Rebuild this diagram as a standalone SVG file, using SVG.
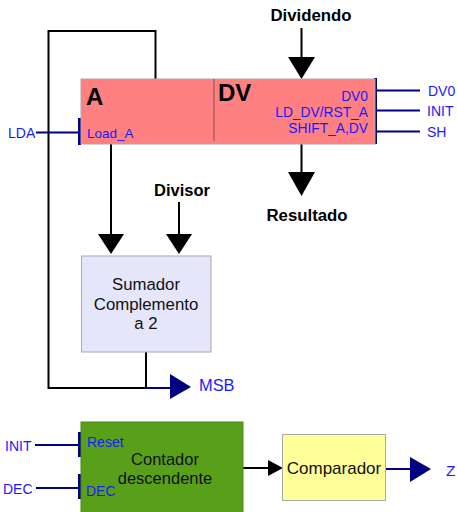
<svg xmlns="http://www.w3.org/2000/svg" width="457" height="512" viewBox="0 0 457 512">
<style>
.w{stroke:#000;stroke-width:2;fill:none}
.n{stroke:#000080;stroke-width:2;fill:none}
.bar{stroke:#000080;stroke-width:3;fill:none}
.bt{font-family:"Liberation Sans",Arial,sans-serif;font-weight:bold;fill:#000}
.bl{font-family:"Liberation Sans",Arial,sans-serif;fill:#1a1aff}
.t{font-family:"Liberation Sans",Arial,sans-serif;fill:#111}
</style>
<rect width="457" height="512" fill="#fff"/>
<g id="connectors">
<polyline class="w" points="155.5,79 155.5,31 48.5,31 48.5,388 146,388"/>
<line class="w" x1="146" y1="352" x2="146" y2="388"/>
<line class="n" x1="146" y1="388" x2="171" y2="388"/>
<polygon points="170,374 191,387 170,399" fill="#000080"/>
<line class="w" x1="111" y1="144" x2="111" y2="236"/>
<polygon points="98,234 124,234 111,254" fill="#000"/>
<line class="w" x1="179" y1="202" x2="179" y2="236"/>
<polygon points="166,234 192,234 179,254" fill="#000"/>
<line class="w" x1="301.5" y1="28" x2="301.5" y2="59"/>
<polygon points="288,57 315,57 301.5,79" fill="#000"/>
<line class="w" x1="301.5" y1="144" x2="301.5" y2="174"/>
<polygon points="288,172 315,172 301.5,196" fill="#000"/>
<line class="n" x1="36" y1="132.5" x2="79" y2="132.5"/>
<line class="bar" x1="79.5" y1="118" x2="79.5" y2="145"/>
<line class="bar" x1="375.5" y1="78" x2="375.5" y2="144"/>
<line class="n" x1="375" y1="90.5" x2="420" y2="90.5"/>
<line class="n" x1="375" y1="110.5" x2="420" y2="110.5"/>
<line class="n" x1="375" y1="131.5" x2="420" y2="131.5"/>
<line class="n" x1="35" y1="445" x2="79" y2="445"/>
<line class="bar" x1="79.5" y1="432" x2="79.5" y2="457"/>
<line class="n" x1="36" y1="488" x2="79" y2="488"/>
<line class="bar" x1="79.5" y1="474" x2="79.5" y2="499"/>
<line class="w" x1="243" y1="468" x2="270" y2="468"/>
<polygon points="268,460 283,468 268,476" fill="#000"/>
<line class="n" x1="386" y1="469" x2="411" y2="469"/>
<polygon points="410,457 431,469 410,482" fill="#000080"/>
</g>
<g id="register">
<rect x="81" y="79" width="294" height="65" fill="#ff8080" stroke="#aaa" stroke-width="1"/>
<line x1="214" y1="79" x2="214" y2="141" stroke="#8a4a4a" stroke-width="1"/>
<text class="bt" x="86" y="105" font-size="24">A</text>
<text class="bt" x="218" y="101" font-size="24">DV</text>
<text class="bl" x="87" y="138" font-size="13.5">Load_A</text>
<text class="bl" x="368" y="101" font-size="13.8" text-anchor="end">DV0</text>
<text class="bl" x="368" y="117" font-size="13.8" text-anchor="end">LD_DV/RST_A</text>
<text class="bl" x="368" y="133" font-size="13.8" text-anchor="end">SHIFT_A,DV</text>
</g>
<g id="sumador">
<rect x="81.5" y="256" width="129.5" height="96" fill="#e6e6fa" stroke="#aaa" stroke-width="1"/>
<text class="t" x="146" y="290" font-size="16.8" text-anchor="middle">Sumador</text>
<text class="t" x="146" y="310" font-size="16.8" text-anchor="middle">Complemento</text>
<text class="t" x="146" y="329" font-size="16.8" text-anchor="middle">a 2</text>
</g>
<g id="contador">
<rect x="81" y="422" width="162" height="95" fill="#58a01a" stroke="#4a8a14" stroke-width="1"/>
<text class="t" x="165" y="465" font-size="16.5" text-anchor="middle">Contador</text>
<text class="t" x="165" y="484" font-size="16.5" text-anchor="middle">descendente</text>
<text class="bl" x="87" y="447" font-size="14">Reset</text>
<text class="bl" x="86" y="496" font-size="14">DEC</text>
</g>
<g id="comparador">
<rect x="282.5" y="434.5" width="103" height="66" fill="#ffff99" stroke="#aaa" stroke-width="1"/>
<text class="t" x="334" y="474" font-size="17" text-anchor="middle">Comparador</text>
</g>
<g id="labels">
<text class="bt" x="311" y="21" font-size="16.8" text-anchor="middle">Dividendo</text>
<text class="bt" x="307" y="221" font-size="16.8" text-anchor="middle">Resultado</text>
<text class="bt" x="182" y="196" font-size="16.5" text-anchor="middle">Divisor</text>
<text class="bl" x="8" y="138" font-size="14">LDA</text>
<text class="bl" x="428" y="96" font-size="14">DV0</text>
<text class="bl" x="427" y="116" font-size="14">INIT</text>
<text class="bl" x="427" y="137" font-size="14">SH</text>
<text class="bl" x="199" y="391" font-size="16.4">MSB</text>
<text class="bl" x="5" y="451" font-size="14">INIT</text>
<text class="bl" x="3" y="494" font-size="14">DEC</text>
<text class="bl" x="446" y="476" font-size="15.5">Z</text>
</g>
</svg>
